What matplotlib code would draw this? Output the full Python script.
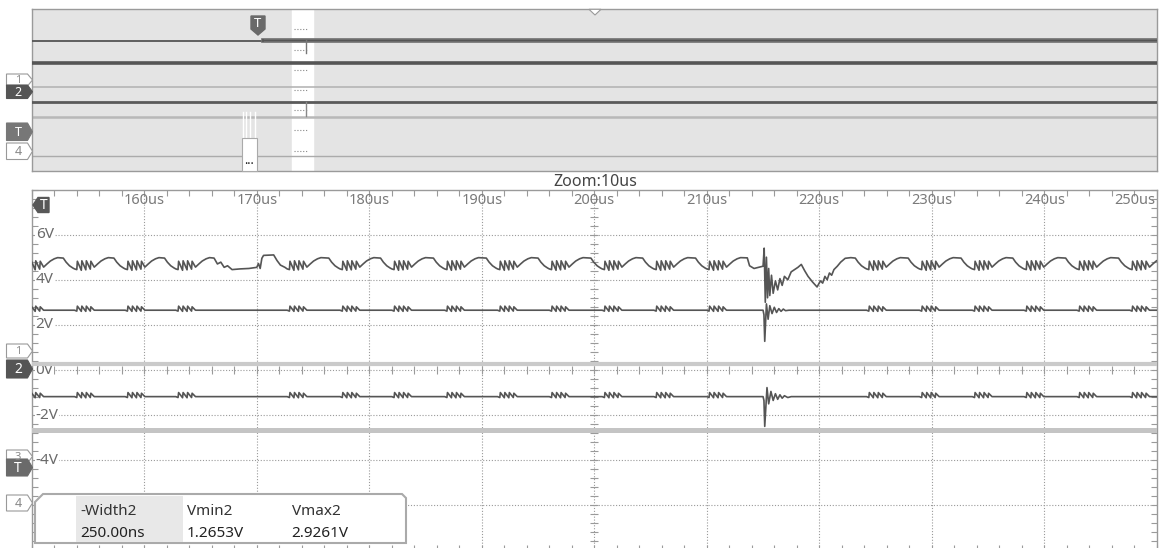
import numpy as np
import matplotlib
matplotlib.use('Agg')
import matplotlib.pyplot as plt
from matplotlib.patches import Polygon, Rectangle
from matplotlib.lines import Line2D
from matplotlib.ticker import MultipleLocator

plt.rcParams['font.family'] = ['Noto Sans', 'DejaVu Sans']

# ---------------- data ----------------
x_tick_us = [160, 170, 180, 190, 200, 210, 220, 230, 240, 250]
x_tick_labels = ['160us', '170us', '180us', '190us', '200us', '210us', '220us', '230us', '240us', '250us']
y_tick_v = [6, 4, 2, 0, -2, -4]
y_tick_labels = ['6V', '4V', '2V', '0V', '-2V', '-4V']
zoom_label = 'Zoom:10us'

# burst start times (us) of the switching ripple
burst_starts = [149.3, 153.8, 158.3, 162.8, 172.7, 177.4, 182.0, 186.7, 191.4, 196.0,
                200.7, 205.3, 210.0, 224.2, 228.9, 233.6, 238.2, 242.9, 247.6]

# top trace (~4.7 V): burst + ramp shape after each burst start
topA_dt = [0.0, 0.2, 0.25, 0.6, 0.65, 1.0, 1.05, 1.4, 1.45, 1.75, 2.05, 2.35, 2.7, 3.0]
topA_v = [4.48, 4.45, 4.82, 4.42, 4.84, 4.44, 4.84, 4.47, 4.82, 4.56, 4.70, 4.83, 4.93, 4.98]
# decline before each burst start
topA_decl_dt = [-1.0, -0.75, -0.45, -0.15]
topA_decl_v = [4.96, 4.78, 4.62, 4.52]
# irregular stretch around 166-172 us
topA_anom_t = [166.2, 166.5, 166.8, 167.1, 167.4, 167.8, 168.5, 169.3, 170.0, 170.15, 170.3,
               170.45, 170.6, 171.5, 171.8, 172.1, 172.5]
topA_anom_v = [4.96, 4.70, 4.78, 4.55, 4.62, 4.45, 4.48, 4.50, 4.55, 4.72, 4.50,
               4.95, 5.08, 5.10, 4.85, 4.65, 4.55]
# transient event around 215 us
topA_evt_t = [213.6, 213.8, 214.2, 214.6, 215.0, 215.1, 215.2, 215.3, 215.4, 215.5, 215.6, 215.75,
              215.9, 216.1, 216.3, 216.5, 216.7, 216.9, 217.2, 217.5, 217.8, 218.1, 218.4, 218.7,
              219.0, 219.4, 219.8, 220.1, 220.3, 220.5, 220.7, 220.9, 221.1, 221.3, 221.6, 221.9,
              222.3, 222.8]
topA_evt_v = [4.97, 4.62, 4.50, 4.55, 4.60, 5.40, 3.00, 5.00, 3.20, 4.50, 3.30, 4.20,
              3.40, 3.95, 3.55, 4.05, 3.75, 4.15, 4.00, 4.35, 4.45, 4.55, 4.68, 4.40,
              4.15, 3.90, 3.68, 3.95, 3.85, 4.15, 4.00, 4.30, 4.20, 4.45, 4.60, 4.78,
              4.95, 4.98]

# channel 2 (~2.65 V)
ch2_base = 2.65
ripple_dt = [0.0, 0.2, 0.25, 0.6, 0.65, 1.0, 1.05, 1.4, 1.45, 1.75]
ripple_dv = [0.0, -0.04, 0.18, -0.05, 0.18, -0.05, 0.18, -0.04, 0.15, 0.0]
ch2_evt_t = [215.0, 215.08, 215.15, 215.3, 215.45, 215.6, 215.8, 216.0, 216.2, 216.4, 216.6,
             216.8, 217.0, 217.3]
ch2_evt_v = [2.65, 2.45, 1.27, 2.93, 2.25, 2.85, 2.50, 2.78, 2.55, 2.72, 2.60, 2.70, 2.63, 2.65]

# lower trace (~-1.18 V)
chC_base = -1.18
chC_evt_t = [215.0, 215.08, 215.15, 215.35, 215.5, 215.7, 215.9, 216.1, 216.3, 216.5, 216.7,
             216.9, 217.2, 217.5]
chC_evt_v = [-1.18, -1.35, -2.50, -0.78, -1.50, -0.95, -1.35, -1.05, -1.30, -1.10, -1.25,
             -1.14, -1.22, -1.18]

ch1_level = 0.25
ch3_level = -2.65

# overview strip
ov_time_range = [-1090, 4270]
ov_trigger_t = 0
zoom_window = [150, 250]
ovA_pre, ovA_post = 4.83, 5.0
ovB_level = 2.65
ovC_level = -1.2
ovD_level = -2.65
ov_ch1_level = 0.25
ov_ch4_level = -6.5
ov_event_t = 215
ovA_event_min = 3.7
ovC_event_min = -2.6
ov_grid_v = [6, 4, 2, 0, -2, -4, -6]

meas_names = ['-Width2', 'Vmin2', 'Vmax2']
meas_values = ['250.00ns', '1.2653V', '2.9261V']

# ---------------- helpers ----------------
W, H = 1162, 548
fig = plt.figure(figsize=(W / 100, H / 100), dpi=100)
fig.patch.set_facecolor('white')


def P(px, py):
    return (px / W, 1 - py / H)


def axes_px(x0, y0, x1, y1):
    return fig.add_axes([x0 / W, 1 - y1 / H, (x1 - x0) / W, (y1 - y0) / H])


def fpoly(pts, **kw):
    p = Polygon([P(*q) for q in pts], closed=True, transform=fig.transFigure, **kw)
    fig.add_artist(p)
    return p


def ftext(px, py, s, **kw):
    fig.text(px / W, 1 - py / H, s, **kw)


def tag(x0, y0, y1, face, edge, label, tcolor, w=21, fs=9):
    ym = (y0 + y1) / 2
    fpoly([(x0, y0), (x0 + w, y0), (x0 + w + 5, ym), (x0 + w, y1), (x0, y1)],
          facecolor=face, edgecolor=edge, linewidth=0.8, zorder=5)
    ftext(x0 + w / 2 + 1, ym + 0.5, label, ha='center', va='center', fontsize=fs,
          color=tcolor, zorder=6)


def assemble(starts, dts, vals, extra_t, extra_v, windows):
    pts = []
    for b in starts:
        pts += [(b + d, v) for d, v in zip(dts, vals)]
    pts = [p for p in pts if not any(lo < p[0] < hi for lo, hi in windows)]
    for et, ev in zip(extra_t, extra_v):
        pts += list(zip(et, ev))
    pts.sort()
    t, v = zip(*pts)
    return np.array(t), np.array(v)


dot_ls = (0, (1, 1.6))
grid_c = '#9a9a9a'
trace_c = '#555555'

# ---------------- overview ----------------
ov = axes_px(32.3, 9.3, 1157, 170.7)
ov.set_facecolor('#e4e4e4')
ov.set_xlim(*ov_time_range)
ov.set_ylim(-8, 8)
ov.set_xticks([])
ov.set_yticks([])
for s in ov.spines.values():
    s.set_color('#9a9a9a')
    s.set_linewidth(1)
ov.axvspan(zoom_window[0], zoom_window[1], color='white', zorder=0.5)
for v in ov_grid_v:
    ov.plot([zoom_window[0] + 5, zoom_window[1] - 30], [v, v], ls=dot_ls, color='#888', lw=0.8, zorder=1)

ov.plot(ov_time_range, [ov_ch1_level] * 2, color='#b0b0b0', lw=1.1, zorder=2)
ov.plot(ov_time_range, [ov_ch4_level] * 2, color='#ababab', lw=1.0, zorder=2)
ov.plot(ov_time_range, [ovD_level] * 2, color='#b8b8b8', lw=1.8, zorder=2)
ov.plot(ov_time_range, [ovC_level] * 2, color='#5a5a5a', lw=2.0, zorder=3)
ov.plot(ov_time_range, [ovB_level] * 2, color='#555', lw=2.6, zorder=3)
ov.plot([ov_time_range[0], ov_trigger_t + 10], [ovA_pre] * 2, color='#555', lw=1.3, zorder=3)
ov.plot([ov_trigger_t + 10, ov_time_range[1]], [ovA_post] * 2, color='#747474', lw=3.4, zorder=3)
ov.plot([ov_trigger_t + 10, ov_time_range[1]], [ovA_post] * 2, color='#555', lw=1.0, zorder=3)
ov.plot([ov_trigger_t + 10] * 2, [ovA_pre, ovA_post], color='#555', lw=1.2, zorder=3)
ov.plot([ov_event_t] * 2, [ovA_post, ovA_event_min], color='#777', lw=1.0, zorder=3)
ov.plot([ov_event_t] * 2, [ovC_level, ovC_event_min], color='#888', lw=1.0, zorder=3)

# ---------------- main zoomed view ----------------
ax = axes_px(31.8, 189.5, 1156.8, 550.5)
ax.set_facecolor('white')
ax.set_xlim(150, 250)
ax.set_ylim(-8, 8)
for s in ax.spines.values():
    s.set_color('#9a9a9a')
    s.set_linewidth(1)
ax.xaxis.set_major_locator(MultipleLocator(10))
ax.xaxis.set_minor_locator(MultipleLocator(2))
ax.yaxis.set_major_locator(MultipleLocator(2))
ax.yaxis.set_minor_locator(MultipleLocator(0.4))
ax.tick_params(which='both', direction='in', length=4, width=0.8, color='#9a9a9a',
               top=True, right=True, bottom=True, left=True,
               labelbottom=False, labelleft=False)

for x in x_tick_us[:-1]:
    ax.axvline(x, ls=dot_ls, color=grid_c, lw=0.8, zorder=1)
for y in [6, 4, 2, 0, -2, -4, -6]:
    ax.axhline(y, ls=dot_ls, color=grid_c, lw=0.8, zorder=1)
# centre cross-hair ticks
cx = np.arange(150, 251, 2)
ax.plot(cx, np.zeros_like(cx), ls='none', marker='|', ms=6, mew=0.8, color=grid_c, zorder=1)
cy = np.arange(-8, 8.01, 0.4)
ax.plot(np.full_like(cy, 200), cy, ls='none', marker='_', ms=6, mew=0.8, color=grid_c, zorder=1)

# flat reference channels
ax.plot([150, 250], [ch1_level] * 2, color='#cacaca', lw=3.0, zorder=3)
ax.plot([150, 250], [ch3_level] * 2, color='#c4c4c4', lw=3.6, zorder=3)

# top trace
windowsA = [(166.0, 172.6), (213.3, 223.0)]
tA1, vA1 = assemble(burst_starts, topA_dt, topA_v, [topA_anom_t, topA_evt_t], [topA_anom_v, topA_evt_v], windowsA)
tA2, vA2 = assemble(burst_starts, topA_decl_dt, topA_decl_v, [], [], windowsA)
pts = sorted(list(zip(tA1, vA1)) + list(zip(tA2, vA2)))
tA, vA = np.array([p[0] for p in pts]), np.array([p[1] for p in pts])
ax.plot(tA, vA, color=trace_c, lw=1.2, zorder=4)

# channel 2
tB, vB = assemble(burst_starts, ripple_dt, [ch2_base + d for d in ripple_dv],
                  [[149.0, 251.0], ch2_evt_t], [[ch2_base, ch2_base], ch2_evt_v], [(214.9, 217.4)])
ax.plot(tB, vB, color=trace_c, lw=1.2, zorder=4)

# lower trace
tC, vC = assemble(burst_starts, ripple_dt, [chC_base + d for d in ripple_dv],
                  [[149.0, 251.0], chC_evt_t], [[chC_base, chC_base], chC_evt_v], [(214.9, 217.6)])
ax.plot(tC, vC, color=trace_c, lw=1.2, zorder=4)

# labels inside the graticule
for v, lbl in zip(y_tick_v, y_tick_labels):
    ax.text(150.35, v, lbl, ha='left', va='center', fontsize=11, color='#6a6a6a', zorder=2,
            bbox=dict(facecolor='white', edgecolor='none', pad=0.3))
for x, lbl in zip(x_tick_us, x_tick_labels):
    if x == 250:
        ax.text(249.9, 7.5, lbl, ha='right', va='center', fontsize=10.5, color='#7a7a7a', zorder=2)
    else:
        ax.text(x, 7.5, lbl, ha='center', va='center', fontsize=10.5, color='#7a7a7a', zorder=2)

ftext(595, 182.5, zoom_label, ha='center', va='center', fontsize=11.5, color='#444')

# ---------------- decorations ----------------
fpoly([(589, 9.3), (601, 9.3), (595, 15)], facecolor='white', edgecolor='#999', linewidth=0.8, zorder=5)
fpoly([(251, 16), (265, 16), (265, 29), (258, 35), (251, 29)], facecolor='#6a6a6a', edgecolor='#6a6a6a', zorder=5)
ftext(258, 23.5, 'T', ha='center', va='center', fontsize=9.5, color='white', zorder=6)
for xx in [243, 246, 250, 254.5]:
    fig.add_artist(Line2D([xx / W, xx / W], [1 - 112 / H, 1 - 138 / H], color='white', lw=1.0,
                          transform=fig.transFigure, zorder=5))
fpoly([(241.5, 138), (257.3, 138), (257.3, 170.7), (241.5, 170.7)], facecolor='white', edgecolor='#aaa',
      linewidth=0.8, zorder=5)
ftext(249.4, 161, '...', ha='center', va='center', fontsize=9, fontweight='bold', color='#111', zorder=6)

fpoly([(33, 205), (38, 197.5), (49, 197.5), (49, 212.5), (38, 212.5)], facecolor='#585858', edgecolor='#585858', zorder=5)
ftext(44, 205.5, 'T', ha='center', va='center', fontsize=10, fontweight='bold', color='white', zorder=6)

tag(6.5, 74, 86, 'white', '#999', '1', '#888', fs=8)
tag(6.5, 85, 98.5, '#555', '#555', '2', 'white')
tag(6.5, 123, 140.5, '#777', '#777', 'T', 'white')
tag(6.5, 143, 159.5, 'white', '#999', '4', '#888')
tag(6.5, 344, 358, 'white', '#999', '1', '#888', fs=8)
tag(6.5, 360, 378, '#555', '#555', '2', 'white', fs=10)
tag(6.5, 450, 463, 'white', '#999', '3', '#888', fs=8)
tag(6.5, 459, 476, '#6a6a6a', '#6a6a6a', 'T', 'white', fs=10)
tag(6.5, 495, 511, 'white', '#999', '4', '#888')

fpoly([(35, 502), (43, 494), (402, 494), (406, 498), (406, 543), (35, 543)],
      facecolor='white', edgecolor='#aaaaaa', linewidth=1.5, zorder=7)
fig.add_artist(Rectangle(P(76, 542), 107.3 / W, 46.5 / H, transform=fig.transFigure,
                         facecolor='#e8e8e8', edgecolor='none', zorder=7.5))
for xx, name, val in zip([80, 186.7, 291.7], meas_names, meas_values):
    ftext(xx, 511.7, name, ha='left', va='center', fontsize=11, color='#333', zorder=8)
    ftext(xx, 533.3, val, ha='left', va='center', fontsize=11, color='#222', zorder=8)

fig.savefig('out.png', dpi=100, facecolor='white')
